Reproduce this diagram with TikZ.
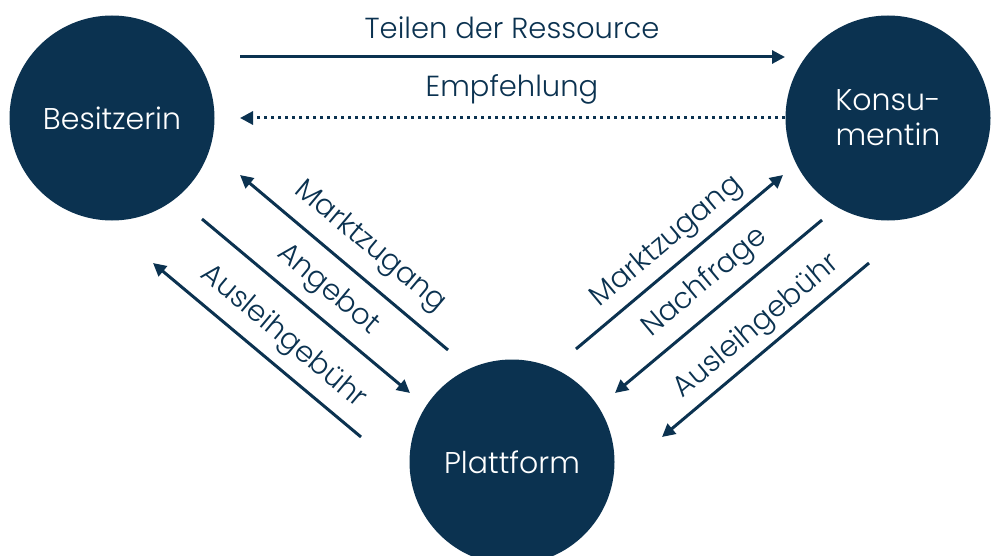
\documentclass[tikz,border=0pt]{standalone}
\usepackage{fontspec}
\setmainfont{Poppins}[UprightFont=* Light]
\usetikzlibrary{arrows.meta}
\definecolor{navy}{RGB}{11,50,80}
\begin{document}
\begin{tikzpicture}[x=1pt,y=-1pt,
  actor/.style={circle,fill=navy,minimum size=205pt,inner sep=0pt,text=white,font=\fontsize{30}{35}\selectfont,align=center},
  flow/.style={draw=navy,line width=3pt,-{Triangle[length=13pt,width=13pt]}},
  dotflow/.style={flow,dash pattern=on 3.5pt off 3.5pt},
  lbl/.style={text=navy,font=\fontsize{29}{34}\selectfont,inner sep=0pt}]
\useasboundingbox (0,0) rectangle (995,556);
\node[actor] (B) at (112,118) {Besitzerin};
\node[actor] (K) at (888,118) {Konsu-\\mentin};
\node[actor] (P) at (512,462) {Plattform};
% top arrows
\coordinate (t1) at (240,57); \coordinate (t2) at (785,57);
\coordinate (d1) at (785,118); \coordinate (d2) at (240,118);
\draw[flow] (t1) -- (t2);
\draw[dotflow] (d1) -- (d2);
\node[lbl] (tl) at (512,28) {Teilen der Ressource};
\node[lbl] (el) at (512,89) {Empfehlung};
% left arrows
\coordinate (lm1) at (448,350); \coordinate (lm2) at (240,175);
\coordinate (la1) at (202,219); \coordinate (la2) at (410,393);
\coordinate (lg1) at (361,437); \coordinate (lg2) at (153,263);
\draw[flow] (lm1) -- (lm2);
\draw[flow] (la1) -- (la2);
\draw[flow] (lg1) -- (lg2);
\node[lbl,rotate=-40] (lmt) at (370,247) {Marktzugang};
\node[lbl,rotate=-40] (lat) at (328,290) {Angebot};
\node[lbl,rotate=-40] (lgt) at (283,337) {Ausleihgebühr};
% right arrows
\coordinate (rm1) at (576,349); \coordinate (rm2) at (783,175);
\coordinate (rn1) at (822,220); \coordinate (rn2) at (615,393);
\coordinate (rg1) at (869,263); \coordinate (rg2) at (662,437);
\draw[flow] (rm1) -- (rm2);
\draw[flow] (rn1) -- (rn2);
\draw[flow] (rg1) -- (rg2);
\node[lbl,rotate=40] (rmt) at (667,242) {Marktzugang};
\node[lbl,rotate=40] (rnt) at (705,283) {Nachfrage};
\node[lbl,rotate=40] (rgt) at (757,327) {Ausleihgebühr};
\end{tikzpicture}
\end{document}
